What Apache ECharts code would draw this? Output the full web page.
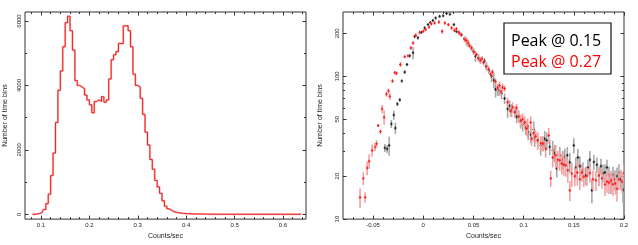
<!DOCTYPE html>
<html><head><meta charset="utf-8">
<script src="https://cdn.jsdelivr.net/npm/echarts@6/dist/echarts.min.js"></script>
<style>html,body{margin:0;padding:0;background:#fff}#c{width:638px;height:245px}</style>
</head><body><div id="c"></div>
<script>
// ---------- Left panel: histogram of count rates ----------
const histX = [0.0825,0.0875,0.0925,0.0975,0.1025,0.1075,0.1125,0.1175,0.1225,0.1275,0.1325,0.1375,0.1425,0.1475,0.1525,0.1575,0.1625,0.1675,0.1725,0.1775,0.1825,0.1875,0.1925,0.1975,0.2025,0.2075,0.2125,0.2175,0.2225,0.2275,0.2325,0.2375,0.2425,0.2475,0.2525,0.2575,0.2625,0.2675,0.2725,0.2775,0.2825,0.2875,0.2925,0.2975,0.3025,0.3075,0.3125,0.3175,0.3225,0.3275,0.3325,0.3375,0.3425,0.3475,0.3525,0.3575,0.3625,0.3675,0.3725,0.3775,0.3825,0.3875,0.3925,0.3975,0.4025,0.4075,0.4125,0.4175,0.4225,0.4275,0.4325,0.4375,0.4425,0.4475,0.4525,0.4575,0.4625,0.4725,0.5025,0.5525,0.6025,0.6375];
const histY = [0,0,8,25,60,150,330,620,1200,1900,2850,3850,4450,5200,5950,6150,5700,5100,4150,4000,3950,3900,3700,3550,3400,3150,3500,3550,3500,3650,3480,3550,4200,4800,4950,5050,5300,5300,5850,5850,5700,5200,4350,4000,3950,3600,3100,2550,2150,1700,1400,1050,850,650,420,250,170,120,80,60,45,35,28,22,18,15,12,10,8,7,6,5,4,3,3,2,2,1,1,0,0,0];
const leftXTicks = [0.1,0.2,0.3,0.4,0.5,0.6];
const leftXMinor = [0.08,0.12,0.14,0.16,0.18,0.22,0.24,0.26,0.28,0.32,0.34,0.36,0.38,0.42,0.44,0.46,0.48,0.52,0.54,0.56,0.58,0.62,0.64];
const leftYTicks = [0,2000,4000,6000];
const leftYMinor = [1000,3000,5000];

// ---------- Right panel: two distributions (log y) ----------
const redX = [-0.063,-0.0598,-0.058,-0.0559,-0.054,-0.051,-0.048,-0.0466,-0.045,-0.0427,-0.041,-0.039,-0.0367,-0.0347,-0.0334,-0.0307,-0.0284,-0.0267,-0.0228,-0.0185,-0.0152,-0.0125,-0.0102,-0.0075,-0.0036,0.0,0.0024,0.0057,0.008,0.0113,0.0155,0.0188,0.0215,0.025,0.0282,0.0354,0.0414,0.0447,0.046,0.0505,0.055,0.0585,0.0625,0.067,0.069,0.074,0.0775,0.079,0.081,0.087,0.089,0.093,0.097,0.101,0.104,0.107,0.108,0.114,0.1195,0.125,0.127,0.132,0.136,0.138,0.142,0.146,0.148,0.1535,0.158,0.16,0.166,0.172,0.175,0.178,0.183,0.187,0.1915,0.193,0.198,0.2,
  0.031,0.033,0.038,0.043,0.048,0.053,0.057,0.06,0.065,0.072,0.076,0.084,0.091,0.095,0.099,0.103,0.11,0.112,0.117,0.122,0.129,0.134,0.14,0.144,0.151,0.156,0.163,0.169,0.181,0.185,0.189,0.195];
const redY = [14.2,19.3,14.2,22.8,25.4,30.3,32,33.7,45.2,41,59,51.6,75,79,72.3,92.7,106,105,121,137,139,158,171,193,203,207,212,221,233,236,240,206,236,230,218,203,181,171,164,148,133,133,117,103,107,83,78,84,82,57,60.7,60,49,47.5,44.7,47.5,36.5,35.5,33.7,38.5,19.3,28,25.8,24.5,23.8,15.9,20.8,21.2,21.2,19.8,21,18.7,20.3,19.3,18.3,18.7,17.8,16.3,18.3,21,
  210,215,195,178,158,142,130,125,112,92,86,66,56,52,50,43,40,38,34,31,27,26,24,22,20,19,20,19,17.5,18,17.5,19];
const redErr = [2.2,2,1.2,2.5,3,3,2,2,1,1.5,4,6,3,3,4,3,3,3,5,3,3,5,5,8,6,5,5,6,6,6,6,8,6,6,6,8,8,10,6,6,5,6,5,5,5,5,5,5,4,5,5,4,5,5,6,5,4,5,4,5,2.5,5,4,4,4,2.5,4,4,3,3,3,3,3,3,3,3,3,3,3,3,
  6,6,7,7,6,6,6,6,6,5,6,5,5,5,5,5,5,4,4,4,4,4,4,4,3,3,3,3,3,3,3,3];
const blackX = [-0.0383,-0.036,-0.034,-0.0318,-0.0294,-0.0278,-0.0258,-0.0234,-0.0214,-0.0185,-0.0162,-0.0135,-0.0102,-0.0085,-0.0053,-0.002,0.0014,0.0047,0.007,0.0096,0.0123,0.0163,0.0198,0.0232,0.0265,0.0305,0.033,0.038,0.043,0.048,0.052,0.061,0.0654,0.0703,0.072,0.0755,0.084,0.0914,0.095,0.099,0.1045,0.11,0.111,0.117,0.121,0.123,0.129,0.133,0.141,0.1435,0.15,0.152,0.156,0.162,0.164,0.168,0.17,0.177,0.181,0.185,0.189,0.195,0.199,
  0.036,0.041,0.045,0.05,0.055,0.057,0.063,0.068,0.074,0.078,0.081,0.086,0.088,0.093,0.097,0.102,0.107,0.114,0.119,0.126,0.131,0.136,0.139,0.146,0.154,0.159,0.166,0.173,0.175,0.179,0.183,0.187,0.191,0.193,0.197];
const blackY = [31.5,31,32.8,46.4,53.6,43.4,64,68.4,92.7,107,121,139,146,190,186,203,218,230,238,246,256,263,265,275,272,230,206,196,176,158,138,128,109,94,81,81,59,57,53,46,40.6,42.4,37,32.8,36.5,35.5,30.3,22.6,27.2,28,32.8,23,23.5,20.3,23,15.9,25.1,23.5,21.2,20.3,20.3,21.2,16,
  200,183,170,150,135,128,118,100,80,76,70,62,58,52,48,44,39,36,34,32,29,28,26,25,27,22,26,24,20,21,23,18,19,20,19];
const blackErr = [2,2,5,3,4,4,2,2,2,3,3,3,15,6,5,5,5,5,5,5,5,5,4,4,4,5,6,6,12,8,12,6,5,12,10,8,8,5,5,5,5,6,5,5,5,5,5,3,4,4,4,4,4,3,3,3,3,3,3,3,3,3,3,
  7,8,8,7,8,6,8,9,7,7,6,6,6,5,5,5,5,4,4,4,4,4,4,4,4,3,4,3,3,3,3,3,3,3,3];
const rightXTicks = [-0.05,0,0.05,0.1,0.15,0.2];
const rightXMinor = [-0.07,-0.06,-0.04,-0.03,-0.02,-0.01,0.01,0.02,0.03,0.04,0.06,0.07,0.08,0.09,0.11,0.12,0.13,0.14,0.16,0.17,0.18,0.19];
const rightYTicks = [10,20,50,100,200];
const rightYMinor = [30,40,60,70,80,90];
const legendLines = ['Peak @ 0.15','Peak @ 0.27'];
const axisTitleX = 'Counts/sec';
const axisTitleY = 'Number of time bins';

const FONT = '"Liberation Sans", Arial, sans-serif';
const TICK = '#333';
const RY_MAX = 282;
const lg = v => Math.log10(v);

function tickAxis(grid, pos, min, max, ticks, len, extra) {
  return Object.assign({
    type: 'value', gridIndex: grid, position: pos, min: min, max: max,
    axisLine: {show: false, onZero: false},
    splitLine: {show: false},
    axisTick: {show: true, inside: true, length: len, customValues: ticks, lineStyle: {color: TICK, width: 1}},
    axisLabel: {show: false}
  }, extra || {});
}
function labels(ticks, fmt, more) {
  return Object.assign({show: true, customValues: ticks, fontSize: 6, color: '#222', fontFamily: FONT, margin: 3, formatter: fmt}, more || {});
}
const plain = v => String(Math.round(v * 1000) / 1000);
const fromLog = v => String(Math.round(Math.pow(10, v)));

const LX = [0.067, 0.6475], LY = [-150, 6280], RX = [-0.08, 0.2];
const RYL = [1, lg(RY_MAX)];
const ryT = rightYTicks.map(lg), ryM = rightYMinor.map(lg);
const nameStyle = {fontSize: 7, color: '#222', fontFamily: FONT};

const xAxis = [
  tickAxis(0, 'bottom', LX[0], LX[1], leftXTicks, 3.5, {axisLabel: labels(leftXTicks, plain), name: axisTitleX, nameLocation: 'middle', nameGap: 9, nameTextStyle: Object.assign({verticalAlign: 'top'}, nameStyle)}),
  tickAxis(0, 'bottom', LX[0], LX[1], leftXMinor, 2),
  tickAxis(0, 'top', LX[0], LX[1], leftXTicks, 3.5),
  tickAxis(0, 'top', LX[0], LX[1], leftXMinor, 2),
  tickAxis(1, 'bottom', RX[0], RX[1], rightXTicks, 3.5, {axisLabel: labels(rightXTicks, plain), name: axisTitleX, nameLocation: 'middle', nameGap: 9, nameTextStyle: Object.assign({verticalAlign: 'top'}, nameStyle)}),
  tickAxis(1, 'bottom', RX[0], RX[1], rightXMinor, 2),
  tickAxis(1, 'top', RX[0], RX[1], rightXTicks, 3.5),
  tickAxis(1, 'top', RX[0], RX[1], rightXMinor, 2)
];
const yAxis = [
  tickAxis(0, 'left', LY[0], LY[1], leftYTicks, 3.5, {axisLabel: labels(leftYTicks, plain, {rotate: 90, margin: 3}), name: axisTitleY, nameLocation: 'middle', nameGap: 16, nameRotate: 90, nameTextStyle: nameStyle}),
  tickAxis(0, 'left', LY[0], LY[1], leftYMinor, 2),
  tickAxis(0, 'right', LY[0], LY[1], leftYTicks, 3.5),
  tickAxis(0, 'right', LY[0], LY[1], leftYMinor, 2),
  {type: 'log', logBase: 10, gridIndex: 1, position: 'left', min: 10, max: RY_MAX, show: false, splitLine: {show: false}},
  tickAxis(1, 'left', RYL[0], RYL[1], ryT, 3.5, {axisLabel: labels(ryT, fromLog, {rotate: 90, margin: 3}), name: axisTitleY, nameLocation: 'middle', nameGap: 19, nameRotate: 90, nameTextStyle: nameStyle}),
  tickAxis(1, 'left', RYL[0], RYL[1], ryM, 2),
  tickAxis(1, 'right', RYL[0], RYL[1], ryT, 3.5),
  tickAxis(1, 'right', RYL[0], RYL[1], ryM, 2)
];

const histData = histX.map((x, i) => [x, histY[i]]);
const HALF_BIN = 0.00125;
function pointsSeries(xs, ys, es, col, errCol) {
  return {
    type: 'custom', xAxisIndex: 4, yAxisIndex: 4, clip: true,
    data: xs.map((x, i) => [x, ys[i], es[i]]),
    encode: {x: 0, y: 1},
    renderItem: function (params, api) {
      const x = api.value(0), y = api.value(1), e = api.value(2);
      const c = api.coord([x, y]);
      const lo = api.coord([x, Math.max(y - e, 1)]);
      const hi = api.coord([x, y + e]);
      const l = api.coord([x - HALF_BIN, y]);
      const r = api.coord([x + HALF_BIN, y]);
      return {type: 'group', children: [
        {type: 'line', shape: {x1: c[0], y1: lo[1], x2: c[0], y2: hi[1]}, style: {stroke: errCol, lineWidth: 1.6}},
        {type: 'line', shape: {x1: l[0], y1: c[1], x2: r[0], y2: c[1]}, style: {stroke: col, lineWidth: 1}},
        {type: 'line', shape: {x1: c[0], y1: c[1] - 1.5, x2: c[0], y2: c[1] + 1.5}, style: {stroke: col, lineWidth: 1}}
      ]};
    }
  };
}

const option = {
  animation: false,
  backgroundColor: '#fff',
  grid: [
    {left: 25, top: 12, width: 281, height: 209, show: true, borderColor: '#333', borderWidth: 1, backgroundColor: 'transparent'},
    {left: 343, top: 12, width: 281, height: 209, show: true, borderColor: '#333', borderWidth: 1, backgroundColor: 'transparent'}
  ],
  xAxis: xAxis,
  yAxis: yAxis,
  series: [
    {type: 'line', xAxisIndex: 0, yAxisIndex: 0, data: histData, step: 'middle', showSymbol: false, symbol: 'none', lineStyle: {color: '#f8b0b0', width: 2}, z: 2, silent: true},
    {type: 'line', xAxisIndex: 0, yAxisIndex: 0, data: histData, step: 'middle', showSymbol: false, symbol: 'none', lineStyle: {color: '#ee2222', width: 1}, z: 3, silent: true},
    pointsSeries(blackX, blackY, blackErr, '#222', '#a8a8a8'),
    pointsSeries(redX, redY, redErr, '#ff1a1a', '#f6a0a0')
  ],
  graphic: [
    {type: 'rect', shape: {x: 504, y: 23, width: 107, height: 51}, style: {fill: '#fff', stroke: '#111', lineWidth: 1.2}, z: 50},
    {type: 'text', x: 511, y: 41.5, style: {text: legendLines[0], fill: '#000', font: '16px "Open Sans", sans-serif', verticalAlign: 'middle'}, z: 51},
    {type: 'text', x: 511, y: 62, style: {text: legendLines[1], fill: '#ff0000', font: '16px "Open Sans", sans-serif', verticalAlign: 'middle'}, z: 51}
  ]
};
const chart = echarts.init(document.getElementById('c'), null, {renderer: 'canvas'});
chart.setOption(option);
</script>
</body></html>
